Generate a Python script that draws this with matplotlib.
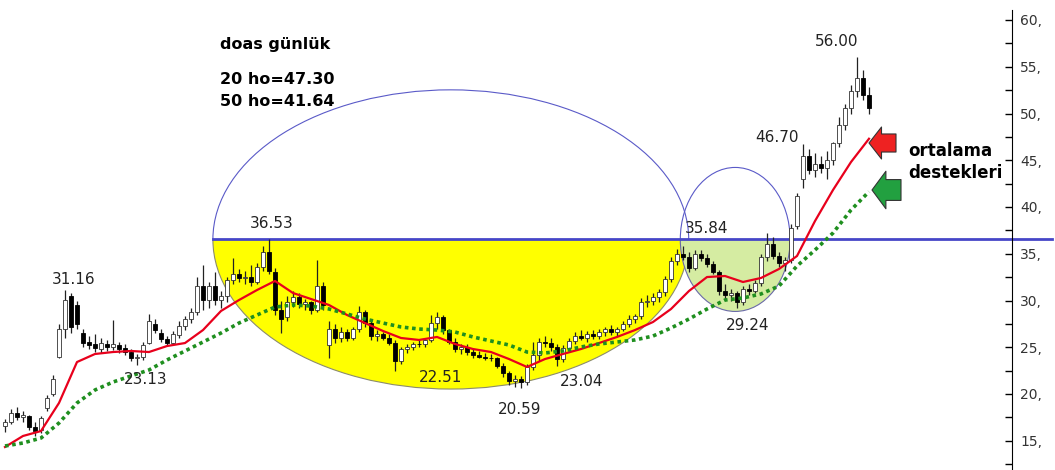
import numpy as np
import matplotlib
matplotlib.use("Agg")
import matplotlib.pyplot as plt
from matplotlib.patches import Ellipse, Rectangle
from matplotlib.ticker import MultipleLocator, FuncFormatter

# daily candles (one entry per bar)
opens = [16.6, 17.0, 18.0, 17.5, 17.6, 16.5, 16.1, 18.5, 20.0, 24.0,
         27.0, 30.5, 29.5, 26.5, 25.6, 25.3, 24.8, 25.3, 25.0, 25.2,
         24.9, 24.5, 23.8, 24.0, 25.5, 27.5, 26.5, 25.9, 25.5, 26.3,
         27.3, 28.0, 28.8, 31.5, 30.0, 31.6, 30.0, 30.5, 32.2, 32.8,
         32.4, 32.5, 32.0, 33.6, 35.2, 33.0, 29.0, 28.2, 29.8, 30.4,
         29.6, 29.8, 29.0, 31.6, 25.2, 27.0, 26.0, 26.6, 26.0, 26.9,
         28.8, 27.6, 26.2, 26.4, 26.0, 25.5, 23.5, 24.8, 25.0, 25.4,
         25.3, 25.8, 27.6, 28.2, 26.8, 25.6, 24.8, 25.0, 24.5, 24.2,
         24.0, 23.9, 23.8, 23.0, 22.2, 21.4, 21.6, 21.3, 22.9, 24.2,
         25.6, 25.5, 25.0, 23.7, 24.9, 25.7, 26.2, 26.0, 26.4, 26.2,
         26.6, 26.9, 26.6, 27.0, 27.5, 28.0, 28.3, 29.8, 29.9, 30.4,
         30.9, 32.3, 34.2, 35.0, 34.6, 33.5, 35.0, 34.5, 33.9, 33.0,
         31.0, 30.6, 30.8, 29.8, 31.2, 31.0, 31.9, 34.6, 36.0, 34.8,
         34.0, 34.3, 38.0, 43.0, 45.5, 44.0, 44.6, 44.2, 45.0, 46.8,
         48.8, 50.6, 52.4, 53.8, 52.0]
highs = [17.3, 18.4, 18.6, 18.2, 17.8, 17.0, 17.6, 19.9, 22.0, 27.5,
         31.16, 30.8, 30.0, 27.0, 26.2, 26.4, 26.0, 25.8, 27.9, 25.6,
         25.3, 24.8, 24.3, 25.6, 28.6, 28.0, 26.9, 26.2, 26.7, 27.8,
         28.3, 29.2, 32.5, 33.8, 32.0, 33.0, 31.0, 32.5, 34.5, 33.4,
         33.2, 33.8, 34.0, 35.8, 36.53, 33.5, 30.0, 30.5, 31.0, 30.8,
         30.2, 30.0, 34.3, 32.0, 27.8, 27.5, 27.2, 27.0, 27.2, 29.4,
         29.0, 27.9, 26.8, 26.6, 26.4, 25.8, 25.0, 25.4, 25.6, 25.8,
         26.0, 28.4, 28.8, 28.4, 27.0, 26.0, 25.4, 25.3, 24.9, 24.6,
         24.4, 24.3, 24.0, 23.3, 22.5, 22.0, 21.9, 23.2, 25.6, 26.0,
         26.2, 26.0, 25.3, 25.2, 26.0, 26.6, 26.8, 26.7, 26.8, 26.9,
         27.2, 27.4, 27.2, 27.8, 28.4, 28.6, 30.3, 30.6, 30.8, 31.2,
         32.6, 34.6, 35.5, 35.84, 35.2, 35.4, 35.4, 35.0, 34.2, 33.3,
         31.8, 31.2, 31.0, 31.5, 31.8, 32.2, 35.0, 37.2, 36.8, 35.2,
         34.6, 38.2, 41.5, 46.7, 46.2, 45.8, 45.5, 46.0, 47.0, 49.6,
         51.0, 53.0, 56.0, 54.6, 52.8]
lows = [15.9, 16.8, 17.2, 17.0, 16.2, 15.5, 15.8, 18.2, 19.8, 23.8,
        26.0, 26.5, 27.0, 25.0, 24.8, 24.5, 24.4, 24.6, 24.7, 24.4,
        24.2, 23.5, 23.13, 23.6, 25.3, 26.5, 25.6, 25.2, 25.3, 26.0,
        26.8, 27.6, 28.5, 29.0, 29.2, 29.5, 29.2, 29.8, 31.8, 32.0,
        31.8, 31.6, 31.8, 33.2, 32.8, 28.5, 26.5, 27.8, 29.3, 29.2,
        29.0, 28.6, 28.8, 29.0, 23.8, 25.5, 25.6, 25.7, 25.8, 26.6,
        27.2, 25.8, 25.7, 25.8, 25.2, 22.51, 23.2, 24.4, 24.7, 25.0,
        25.0, 25.6, 27.0, 26.4, 25.4, 24.5, 24.3, 24.2, 23.9, 23.8,
        23.6, 23.5, 22.8, 21.8, 21.0, 20.8, 20.59, 21.0, 22.6, 23.5,
        25.0, 24.6, 23.04, 23.4, 24.6, 25.4, 25.8, 25.6, 25.9, 25.9,
        26.2, 26.3, 26.2, 26.7, 27.2, 27.6, 28.0, 29.3, 29.5, 29.8,
        30.5, 32.0, 33.8, 34.3, 33.0, 33.3, 34.2, 33.6, 32.8, 30.6,
        30.2, 30.0, 29.24, 29.5, 30.6, 30.8, 31.6, 34.2, 34.4, 33.6,
        33.2, 34.0, 37.7, 42.0, 43.5, 43.2, 43.6, 43.0, 44.5, 46.4,
        48.2, 50.0, 51.8, 51.4, 50.0]
closes = [17.0, 18.0, 17.5, 17.8, 16.5, 16.0, 17.4, 19.6, 21.6, 27.0,
          30.0, 27.2, 27.5, 25.5, 25.2, 24.9, 25.5, 25.0, 25.4, 24.8,
          24.5, 23.8, 24.0, 25.2, 27.8, 26.8, 25.9, 25.5, 26.4, 27.3,
          28.0, 28.8, 31.5, 30.0, 31.6, 30.0, 30.5, 32.2, 32.8, 32.4,
          32.5, 32.0, 33.6, 35.2, 33.2, 29.0, 28.0, 29.8, 30.4, 29.6,
          29.8, 29.0, 31.6, 29.5, 27.0, 26.0, 26.6, 26.0, 26.9, 28.8,
          27.6, 26.2, 26.4, 26.0, 25.5, 23.5, 24.8, 25.0, 25.4, 25.3,
          25.8, 27.6, 28.2, 26.8, 25.6, 24.8, 25.0, 24.5, 24.2, 24.0,
          23.9, 23.8, 23.0, 22.2, 21.4, 21.6, 21.3, 22.9, 24.2, 25.6,
          25.5, 25.0, 23.7, 24.9, 25.7, 26.2, 26.0, 26.4, 26.2, 26.6,
          26.9, 26.6, 27.0, 27.5, 28.0, 28.3, 29.8, 29.9, 30.4, 30.9,
          32.3, 34.2, 35.0, 34.6, 33.5, 35.0, 34.5, 33.9, 33.0, 31.0,
          30.6, 30.8, 29.8, 31.2, 31.0, 31.9, 34.6, 36.0, 34.8, 34.0,
          34.3, 37.8, 41.2, 45.5, 44.0, 44.6, 44.2, 45.0, 46.8, 48.8,
          50.6, 52.4, 53.8, 52.0, 50.6]

# moving averages, read every 3rd bar
ma_step = 3
ma20 = [14.33, 15.51, 16.04, 19.04, 23.42, 24.28, 24.49, 24.60, 24.49, 25.13,
        25.45, 26.84, 28.88, 30.05, 31.12, 32.09, 30.80, 30.16, 29.52, 28.45,
        27.59, 26.74, 25.99, 25.78, 26.10, 25.35, 24.81, 24.49, 23.74, 22.89,
        23.74, 24.28, 24.81, 25.45, 26.10, 26.84, 27.70, 29.09, 31.02, 32.51,
        32.62, 31.98, 32.41, 33.37, 34.76, 38.50, 41.82, 44.81, 47.30]
ma50 = [14.44, 14.76, 15.29, 16.90, 19.04, 20.43, 21.28, 21.93, 22.57, 23.64,
        24.60, 25.56, 26.52, 27.59, 28.45, 29.30, 29.52, 29.41, 29.09, 28.56,
        28.02, 27.59, 27.17, 26.95, 26.84, 26.63, 26.10, 25.67, 25.24, 24.49,
        24.39, 24.60, 25.03, 25.35, 25.56, 25.78, 26.20, 27.06, 28.02, 29.09,
        30.05, 30.27, 30.70, 31.55, 33.69, 35.40, 37.22, 39.68, 41.64]

resistance = 36.53
price_labels = ["31.16", "23.13", "36.53", "22.51", "20.59", "23.04",
                "35.84", "29.24", "46.70", "56.00"]
label_pos = [(74, 280), (146, 380), (272, 224), (441, 378), (520, 409),
             (582, 381), (707, 228), (748, 326), (777, 137), (837, 42)]

W, H = 1055, 470
fig = plt.figure(figsize=(W / 100, H / 100), dpi=100)
ax = fig.add_axes([0, 0, 1012 / W, 460 / H])

o = np.array(opens); h = np.array(highs); l = np.array(lows); c = np.array(closes)
x = np.arange(len(c))
up = c >= o

# highlighted areas, filled below the resistance line, outlined above
def half(el, below):
    ax.add_patch(el)
    if below:
        r = Rectangle((-50, 0), 300, resistance, transform=ax.transData)
    else:
        r = Rectangle((-50, resistance), 300, 100, transform=ax.transData)
    el.set_clip_path(r.get_path(), r.get_transform())

half(Ellipse((74.3, resistance), 79.3, 32.0, fc='#ffff00', ec='#8c8c6c', lw=0.8, zorder=1), True)
half(Ellipse((74.3, resistance), 79.3, 32.0, fc='none', ec='#5a5ac8', lw=0.8, zorder=1), False)
half(Ellipse((121.7, resistance), 18.3, 15.4, fc='#d5eca2', ec='#6a6aa8', lw=0.8, zorder=1.1), True)
half(Ellipse((121.7, resistance), 18.3, 15.4, fc='none', ec='#5a5ac8', lw=0.8, zorder=1.1), False)

ax.plot([34.7, 174.5], [resistance, resistance], color='#4646c8', lw=2, zorder=2, clip_on=False)

# candles
ax.vlines(x, l, h, color='#222222', lw=0.9, zorder=2.5)
ax.bar(x[up], (c - o)[up], bottom=o[up], width=0.55, color='white',
       edgecolor='#333333', lw=0.6, zorder=2.6)
ax.bar(x[~up], (o - c)[~up], bottom=c[~up], width=0.55, color='black',
       edgecolor='black', lw=0.6, zorder=2.6)

mx = np.arange(len(ma20)) * ma_step
ax.plot(mx, ma20, color='#e8001c', lw=1.6, zorder=3)
ax.plot(mx, ma50, color='#1f8f1f', lw=2.6, ls=(0, (1, 1)), zorder=3)

ax.set_xlim(-5 / 6, 1007 / 6)
ax.set_ylim(60 - 450 / 9.35, 60 + 10 / 9.35)
for s in ['left', 'top', 'bottom']:
    ax.spines[s].set_visible(False)
ax.set_xticks([])
ax.yaxis.tick_right()
ax.yaxis.set_major_locator(MultipleLocator(5))
ax.yaxis.set_minor_locator(MultipleLocator(2.5))
ax.yaxis.set_major_formatter(FuncFormatter(lambda v, p: f"{v:.0f},"))
ax.tick_params(axis='y', which='both', direction='in', length=5, width=1,
               labelsize=10, labelcolor='#333333', pad=6)

def fp(px, py):
    return px / W, 1 - py / H

for t, (px, py) in zip(price_labels, label_pos):
    fig.text(*fp(px, py), t, ha='center', va='center', fontsize=11, color='#222222')

for t, py in [("doas günlük", 45), ("20 ho=47.30", 80), ("50 ho=41.64", 102)]:
    fig.text(*fp(220, py), t, ha='left', va='center', fontsize=11.5,
             fontweight='bold', color='black')
fig.text(*fp(908, 151), "ortalama", ha='left', va='center', fontsize=12, fontweight='bold')
fig.text(*fp(908, 173), "destekleri", ha='left', va='center', fontsize=12, fontweight='bold')

# arrows
for (tip, tail, fc, hw, tw, hl) in [((869, 143), (896, 143), '#ee2222', 23, 13, 9),
                                     ((872, 190), (901, 190), '#22a040', 27, 15, 10)]:
    ax.annotate('', xy=(tip[0], H - tip[1]), xycoords='figure pixels',
                xytext=(tail[0], H - tail[1]), textcoords='figure pixels',
                arrowprops=dict(arrowstyle=f'simple,head_width={hw},head_length={hl},tail_width={tw}',
                                mutation_scale=1, fc=fc, ec='#333333', lw=0.8,
                                shrinkA=0, shrinkB=0))

fig.savefig('out.png', dpi=100)
